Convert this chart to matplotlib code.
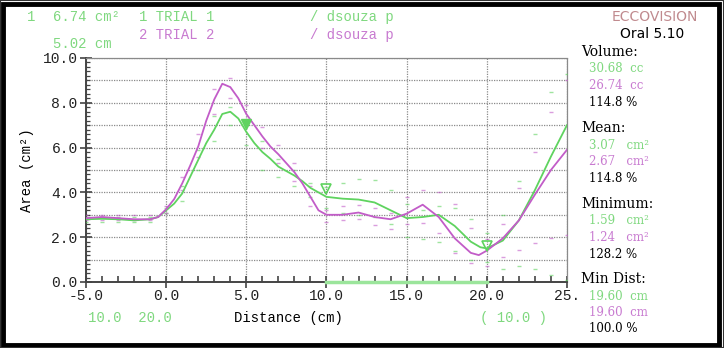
import matplotlib
matplotlib.use('Agg')
import matplotlib.pyplot as plt
from matplotlib.ticker import MultipleLocator
from matplotlib.patches import Rectangle

GREEN = '#5fd35f'
MAGENTA = '#c25cc8'
TXT_GREEN = '#7fd87f'
TXT_MAGENTA = '#c87ad0'
GRID = '#8a8a8a'
MONO = 'Liberation Mono'
SERIF = 'DejaVu Serif'

# trial 1 (green) and trial 2 (magenta) area curves
t1_x = [-5, -4, -3, -2, -1, -0.5, 0, 0.5, 1, 1.5, 2, 2.5, 3, 3.5, 4, 4.5, 5, 5.5, 6, 6.5,
        7, 7.5, 8, 8.5, 9, 9.5, 10, 11, 12, 13, 14, 15, 16, 17, 18, 19, 19.6, 20,
        21, 22, 23, 24, 25]
t1_y = [2.8, 2.82, 2.8, 2.75, 2.8, 2.9, 3.2, 3.5, 3.95, 4.7, 5.45, 6.2, 6.8, 7.5, 7.6, 7.3,
        6.7, 6.2, 5.8, 5.5, 5.15, 4.95, 4.75, 4.5, 4.2, 4.0, 3.8, 3.72, 3.68, 3.55, 3.2,
        2.85, 2.9, 3.0, 2.5, 1.8, 1.55, 1.5, 1.85, 2.75, 4.1, 5.6, 7.0]

t2_x = [-5, -4, -3, -2, -1, -0.5, 0, 0.5, 1, 1.5, 2, 2.5, 3, 3.5, 4, 4.5, 5, 5.5, 6, 6.5,
        7, 7.5, 8, 8.5, 9, 9.5, 10, 11, 12, 13, 14, 15, 16, 17, 18, 19, 19.5, 20, 21, 22,
        23, 24, 25]
t2_y = [2.85, 2.9, 2.85, 2.8, 2.8, 2.9, 3.25, 3.7, 4.4, 5.2, 6.05, 7.2, 8.15, 8.85, 8.7,
        8.2, 7.5, 7.0, 6.5, 6.05, 5.7, 5.3, 4.9, 4.4, 3.8, 3.2, 3.0, 3.0, 3.1, 2.9, 2.8,
        3.05, 3.45, 2.9, 1.95, 1.3, 1.2, 1.4, 1.95, 2.75, 3.9, 5.0, 5.9]

# dotted range bands
band_x = list(range(-5, 26))
t1_upper = [2.9, 2.9, 2.9, 2.9, 2.9, 3.3, 4.3, 5.9, 7.4, 7.8, 7.1, 6.3, 5.5, 5.0, 4.4, 4.25,
            4.4, 4.6, 4.55, 4.1, 3.5, 3.2, 3.4, 3.3, 2.8, 2.2, 3.0, 4.5, 6.6, 8.5, 9.3]
t1_lower = [2.7, 2.7, 2.7, 2.7, 2.7, 3.1, 3.6, 5.0, 6.3, 7.0, 6.1, 5.0, 4.7, 4.3, 3.8, 3.3,
            3.1, 3.0, 2.9, 2.6, 2.0, 1.9, 1.8, 1.4, 1.0, 0.9, 0.6, 0.72, 0.6, 0.3, 0.1]
t2_upper = [3.0, 3.0, 3.0, 3.0, 3.0, 3.4, 4.7, 6.6, 8.6, 9.1, 7.9, 6.9, 6.1, 5.3, 4.3, 3.2,
            3.4, 3.45, 3.3, 3.1, 3.8, 4.1, 4.0, 3.5, 2.4, 1.9, 2.6, 4.2, 5.8, 7.6, 9.0]
t2_lower = [2.75, 2.75, 2.75, 2.75, 2.75, 3.1, 4.1, 5.6, 7.5, 8.2, 7.1, 6.0, 5.3, 4.5, 3.4,
            2.7, 2.75, 2.8, 2.55, 2.35, 2.6, 2.65, 2.2, 1.3, 0.85, 0.7, 1.1, 1.45, 1.73, 1.95,
            2.1]

# cursor markers on trial 1
cursor_x = [5, 10, 20]
cursor_y = [7.05, 4.15, 1.6]
range_x = [10, 20]

fig = plt.figure(figsize=(7.24, 3.48), dpi=100)
ax = fig.add_axes([0.1188, 0.1897, 0.6643, 0.6437])

ax.plot(t1_x, t1_y, color=GREEN, lw=1.3, zorder=4)
ax.plot(t2_x, t2_y, color=MAGENTA, lw=1.3, zorder=4)
for b, c in [(t1_upper, GREEN), (t1_lower, GREEN), (t2_upper, MAGENTA), (t2_lower, MAGENTA)]:
    ax.plot(band_x, b, ls='none', marker='_', ms=3, mew=1, color=c, alpha=0.6, zorder=3)
ax.plot(cursor_x[:1], cursor_y[:1], ls='none', marker='v', ms=7, color=GREEN, zorder=5)
ax.plot(cursor_x[1:], cursor_y[1:], ls='none', marker='v', ms=7, mfc='none', mec=GREEN,
        mew=1.2, zorder=5)
ax.plot(range_x, [0, 0], color='#9be59b', lw=2.5, zorder=6, clip_on=False)

ax.set_xlim(-5, 25)
ax.set_ylim(0, 10)
ax.xaxis.set_major_locator(MultipleLocator(5))
ax.xaxis.set_minor_locator(MultipleLocator(1))
ax.yaxis.set_major_locator(MultipleLocator(2))
ax.yaxis.set_minor_locator(MultipleLocator(0.2))
ax.set_xticks([-5, 0, 5, 10, 15, 20, 25])
ax.set_xticklabels(['-5.0', '0.0', '5.0', '10.0', '15.0', '20.0', '25.'])
ax.set_yticklabels(['%.1f' % v for v in ax.get_yticks()])
for lab in ax.get_xticklabels() + ax.get_yticklabels():
    lab.set_fontfamily(MONO)
    lab.set_fontsize(10.5)
    lab.set_color('#222222')

ax.tick_params(axis='x', which='major', direction='inout', length=8, width=1.2, color='#444',
               pad=1)
ax.tick_params(axis='x', which='minor', direction='in', length=4, width=1.2, color='#444')
ax.tick_params(axis='y', which='major', direction='inout', length=8, width=1.2, color='#444',
               pad=2)
ax.tick_params(axis='y', which='minor', direction='in', length=3, width=0.9, color='#444')

ax.grid(True, which='major', axis='x', ls=(0, (1, 1)), color=GRID, lw=0.9)
for yv in range(1, 11):
    ax.axhline(yv, ls=(0, (1, 1)), color=GRID, lw=0.9, zorder=1)
ax.grid(False, axis='y')

for s in ['top', 'right']:
    ax.spines[s].set_linestyle((0, (1, 1)))
    ax.spines[s].set_color(GRID)
    ax.spines[s].set_linewidth(0.9)
for s in ['left', 'bottom']:
    ax.spines[s].set_color('#444444')
    ax.spines[s].set_linewidth(1.4)

ax.set_xlabel('Distance (cm)', fontfamily=MONO, fontsize=10)
ax.xaxis.set_label_coords(0.42, -0.13)
ax.set_ylabel('Area (cm²)', fontfamily=MONO, fontsize=10, labelpad=6)

# header text
hdr = dict(fontfamily=MONO, fontsize=10, va='center')
fig.text(27 / 724, 1 - 17 / 348, '1', color=TXT_GREEN, **hdr)
fig.text(53 / 724, 1 - 17 / 348, '6.74 cm²', color=TXT_GREEN, **hdr)
fig.text(53 / 724, 1 - 44 / 348, '5.02 cm', color=TXT_GREEN, **hdr)
fig.text(139 / 724, 1 - 17 / 348, '1 TRIAL 1', color=TXT_GREEN, **hdr)
fig.text(139 / 724, 1 - 35 / 348, '2 TRIAL 2', color=TXT_MAGENTA, **hdr)
fig.text(310 / 724, 1 - 17 / 348, '/ dsouza p', color=TXT_GREEN, **hdr)
fig.text(310 / 724, 1 - 35 / 348, '/ dsouza p', color=TXT_MAGENTA, **hdr)

# footer text
fig.text(88 / 724, 1 - 318 / 348, '10.0  20.0', color=TXT_GREEN, **hdr)
fig.text(480 / 724, 1 - 318 / 348, '( 10.0 )', color=TXT_GREEN, **hdr)

# right panel
fig.text(655 / 724, 1 - 17 / 348, 'ECCOVISION', fontfamily='DejaVu Sans', fontsize=10,
         color='#c08a8e', ha='center', va='center')
fig.text(652 / 724, 1 - 34 / 348, 'Oral 5.10', fontfamily='DejaVu Sans', fontsize=10,
         color='black', ha='center', va='center')

panel = [
    ('Volume:', '30.68  cc', '26.74  cc', '114.8 %', 52),
    ('Mean:', '3.07   cm²', '2.67   cm²', '114.8 %', 128),
    ('Minimum:', '1.59   cm²', '1.24   cm²', '128.2 %', 204),
    ('Min Dist:', '19.60  cm', '19.60  cm', '100.0 %', 279),
]
for head, v1, v2, pct, y0 in panel:
    fig.text(581 / 724, 1 - y0 / 348, head, fontfamily=SERIF, fontsize=10, color='black',
             va='center')
    fig.text(589 / 724, 1 - (y0 + 17) / 348, v1, fontfamily=SERIF, fontsize=8.5,
             color=TXT_GREEN, va='center')
    fig.text(589 / 724, 1 - (y0 + 33.5) / 348, v2, fontfamily=SERIF, fontsize=8.5,
             color=TXT_MAGENTA, va='center')
    fig.text(589 / 724, 1 - (y0 + 50) / 348, pct, fontfamily=SERIF, fontsize=8.5,
             color='black', va='center')

# outer frame
fig.patches.append(Rectangle((3 / 724, 3 / 348), 716 / 724, 341 / 348, transform=fig.transFigure,
                             fill=False, ec='black', lw=3.5))
fig.patches.append(Rectangle((0, 0), 1, 1, transform=fig.transFigure, fill=False,
                             ec='#333333', lw=1.5))

fig.savefig('out.png', dpi=100)
